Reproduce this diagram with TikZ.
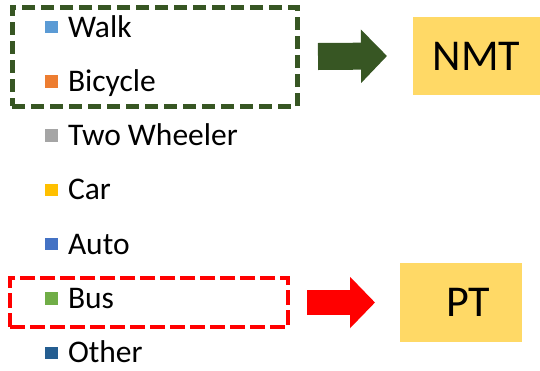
\documentclass[tikz,border=0pt]{standalone}
\usepackage{fontspec}
\setmainfont{Carlito}
\usetikzlibrary{arrows.meta}
\definecolor{walkc}{HTML}{5B9BD5}
\definecolor{bicyclec}{HTML}{ED7D31}
\definecolor{twowheelc}{HTML}{A5A5A5}
\definecolor{carc}{HTML}{FFC000}
\definecolor{autoc}{HTML}{4472C4}
\definecolor{busc}{HTML}{70AD47}
\definecolor{otherc}{HTML}{255E91}
\definecolor{nmtgreen}{HTML}{375623}
\definecolor{boxyellow}{HTML}{FFD966}

\begin{document}
\begin{tikzpicture}[x=1pt,y=-1pt]
\tikzstyle{every node}+=[inner sep=0pt, outer sep=0pt]
\tikzstyle{legsq}=[minimum size=12.5pt]
\tikzstyle{legtxt}=[anchor=base west, font=\fontsize{31.5}{36}\selectfont]
\tikzstyle{classbox}=[fill=boxyellow, font=\fontsize{44}{52}\selectfont]
\tikzstyle{groupbox}=[draw, minimum width=285pt, minimum height=99pt]
\useasboundingbox (0,0) rectangle (540,370);
\node [legsq, fill=walkc] (walksq) at (51.5,27) {};
\node [legtxt] (walk) at (68,37) {Walk};
\node [legsq, fill=bicyclec] (bicyclesq) at (51.5,81.3) {};
\node [legtxt] (bicycle) at (68,91.3) {Bicycle};
\node [legsq, fill=twowheelc] (twowheelsq) at (51.5,135.6) {};
\node [legtxt] (twowheel) at (68,145.6) {Two Wheeler};
\node [legsq, fill=carc] (carsq) at (51.5,189.9) {};
\node [legtxt] (car) at (68,199.9) {Car};
\node [legsq, fill=autoc] (autosq) at (51.5,244.2) {};
\node [legtxt] (auto) at (68,254.2) {Auto};
\node [legsq, fill=busc] (bussq) at (51.5,298.5) {};
\node [legtxt] (bus) at (68,308.5) {Bus};
\node [legsq, fill=otherc] (othersq) at (51.5,352.8) {};
\node [legtxt] (other) at (68,362.8) {Other};
% groups
\node [groupbox, nmtgreen, line width=5pt, dash pattern=on 13pt off 6pt] (nmtgroup) at (154.5,56.5) {};
\node [groupbox, red, line width=4pt, dash pattern=on 15pt off 5pt, minimum width=278pt, minimum height=49pt] (ptgroup) at (149,302.5) {};
% classes
\node [classbox, minimum width=127pt, minimum height=78pt] (nmt) at (476.5,56) {NMT};
\node [classbox, minimum width=122pt, minimum height=79pt] (pt) at (461,302.5) {\hspace{14pt}PT};
\draw [nmtgreen, line width=27pt, -{Triangle[length=26pt,width=52pt]}] ([xshift=21pt]nmtgroup.east) -- ([xshift=-26pt]nmt.west);
\draw [red, line width=25pt, -{Triangle[length=25pt,width=50pt]}] ([xshift=19pt]ptgroup.east) -- ([xshift=-25pt]pt.west);
\end{tikzpicture}
\end{document}
